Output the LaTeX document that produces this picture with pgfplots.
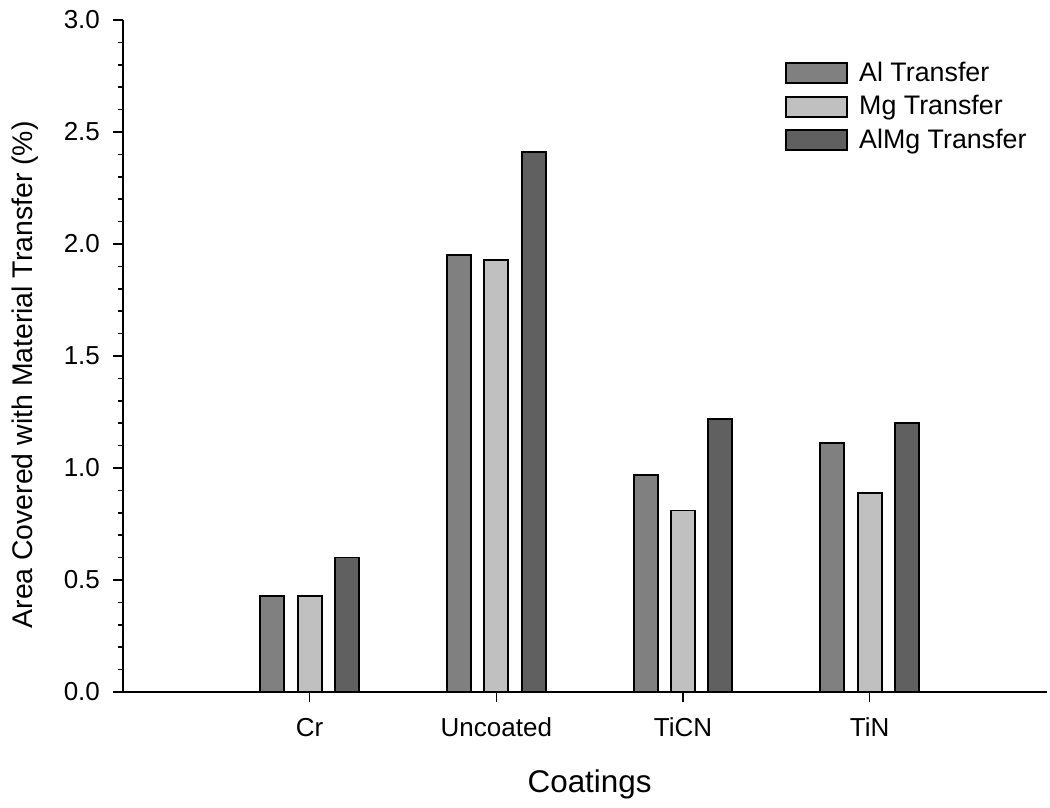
\documentclass[border=0pt]{standalone}
\usepackage{fontspec}
\setmainfont{Liberation Sans}
\usepackage{pgfplots}
\pgfplotsset{compat=1.18}
\definecolor{alc}{HTML}{808080}
\definecolor{mgc}{HTML}{C0C0C0}
\definecolor{almgc}{HTML}{606060}
\begin{document}
\begin{tikzpicture}
\begin{axis}[
  at={(0,0)}, anchor=south west,
  scale only axis, width=462pt, height=336pt,
  xmin=0, xmax=4.95, ymin=0, ymax=3,
  axis lines=left, axis line style={-, line width=0.8pt},
  tick align=outside,
  major tick length=5pt, minor tick length=2.5pt,
  tick style={line width=0.8pt, black},
  xtick={1,2,3,4}, xticklabels={Cr,Uncoated,TiCN,TiN},
  ytick={0,0.5,...,3.0}, minor y tick num=4,
  /pgf/number format/assume math mode=true,
  tick label style={font=\fontsize{13}{15}\selectfont},
  xticklabel style={yshift=-4.5pt},
  yticklabel style={xshift=-3pt, /pgf/number format/.cd, fixed, fixed zerofill, precision=1},
  every axis y label/.style={at={(axis description cs:-0.106,0.472)}, rotate=90, anchor=center, font=\fontsize{14.2}{16}\selectfont},
  every axis x label/.style={at={(axis description cs:0.505,-0.138)}, anchor=center, font=\fontsize{15.7}{18}\selectfont},
  xlabel={Coatings},
  ylabel={Area Covered with Material Transfer (\%)},
  ybar, bar width=0.128,
  legend style={at={(0.71,0.95)}, anchor=north west, draw=none, fill=none,
    font=\fontsize{13.4}{15}\selectfont, row sep=1.5pt,
    /tikz/every odd column/.append style={column sep=3.5pt}},
  legend cell align=left,
  legend image code/.code={\draw[#1, line width=0.9pt] (0pt,-5pt) rectangle (30.5pt,5pt);},
]
\addplot[fill=alc, draw=black, line width=0.9pt, bar shift=-0.2] coordinates {(1,0.43) (2,1.95) (3,0.97) (4,1.11)};
\addplot[fill=mgc, draw=black, line width=0.9pt, bar shift=0] coordinates {(1,0.43) (2,1.93) (3,0.81) (4,0.89)};
\addplot[fill=almgc, draw=black, line width=0.9pt, bar shift=0.2] coordinates {(1,0.60) (2,2.41) (3,1.22) (4,1.20)};
\legend{Al Transfer, Mg Transfer, AlMg Transfer}
\end{axis}
\pgfresetboundingbox
\path (-61.5pt,-58pt) rectangle (463.5pt,346pt);
\end{tikzpicture}
\end{document}
